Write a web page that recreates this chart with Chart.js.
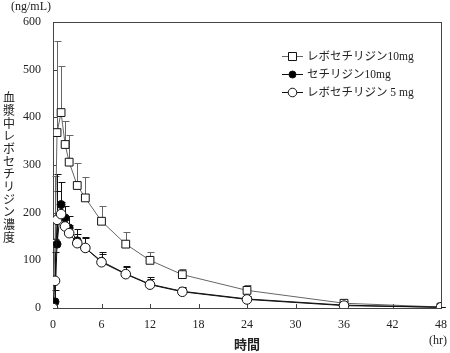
<!DOCTYPE html>
<html lang="ja">
<head>
<meta charset="UTF-8">
<title>血漿中レボセチリジン濃度</title>
<script src="https://cdn.jsdelivr.net/npm/chart.js"></script>
<style>
  html, body { margin: 0; padding: 0; background: #fff; }
  #wrap { width: 450px; height: 353px; }
</style>
</head>
<body>
<div id="wrap"><canvas id="myChart" width="450" height="353"></canvas></div>
<script>
// 採血時間 (hr)
const times = [0, 0.25, 0.5, 1, 1.5, 2, 3, 4, 6, 9, 12, 16, 24, 36, 48];

// レボセチリジン10mg (平均, SD)
const levo10 = [0, 136, 368, 410, 343, 306, 257, 231, 182, 134, 100, 70, 37, 10, 2];
const levo10Sd = [0, 140, 192, 98, 50, 56, 47, 43, 32, 26, 17, 11, 12, 5, 1];

// セチリジン10mg
const cet10 = [0, 13, 134, 217, 189, 168, 141, 126, 98, 72, 50, 35, 19, 6, 1.5];
const cet10Sd = [0, 25, 148, 47, 25, 25, 24, 24, 19, 17, 14, 9, 6, 3, 1];

// レボセチリジン 5 mg
const levo5 = [0, 57, 185, 197, 171, 157, 136, 126, 96, 71, 49, 34, 18, 5, 1.5];
const levo5Sd = [0, 60, 60, 25, 20, 18, 20, 20, 17, 14, 12, 8, 5, 2, 1];

const xTicks = [0, 6, 12, 18, 24, 30, 36, 42, 48];
const yTicks = [0, 100, 200, 300, 400, 500, 600];
const legendLabels = ['レボセチリジン10mg', 'セチリジン10mg', 'レボセチリジン 5 mg'];

const serif = '"Liberation Serif", "DejaVu Serif", "Noto Sans CJK JP", serif';

const series = [
    { mean: levo10, sd: levo10Sd, color: '#666', style: 'rect', radius: 5.5, fill: '#fff' },
    { mean: cet10, sd: cet10Sd, color: '#111', style: 'circle', radius: 4, fill: '#000' },
    { mean: levo5, sd: levo5Sd, color: '#111', style: 'circle', radius: 4.8, fill: '#fff' }
];

function toPoints(arr) {
    return times.map((t, i) => ({ x: t, y: arr[i] }));
}

//Dibuja barras de error, marco, ticks internos, textos y leyenda
const extras = {
    id: 'extras',
    beforeDatasetsDraw(chart) {
        const { ctx, chartArea: a, scales: { x, y } } = chart;
        ctx.save();
        // marco
        ctx.strokeStyle = '#444';
        ctx.lineWidth = 1;
        ctx.strokeRect(Math.round(a.left) + 0.5, Math.round(a.top) + 0.5,
            Math.round(a.right - a.left), Math.round(a.bottom - a.top));
        // ticks hacia dentro
        ctx.beginPath();
        yTicks.forEach(v => {
            const py = Math.round(y.getPixelForValue(v)) + 0.5;
            ctx.moveTo(a.left, py);
            ctx.lineTo(a.left + 4, py);
        });
        xTicks.forEach(v => {
            const px = Math.round(x.getPixelForValue(v)) + 0.5;
            ctx.moveTo(px, a.bottom);
            ctx.lineTo(px, a.bottom - 4);
        });
        ctx.stroke();
        // barras de error (solo hacia arriba)
        series.forEach(s => {
            ctx.strokeStyle = s.color;
            ctx.beginPath();
            times.forEach((t, i) => {
                if (!s.sd[i]) return;
                const px = Math.round(x.getPixelForValue(t)) + 0.5;
                const y0 = y.getPixelForValue(s.mean[i]);
                const y1 = Math.round(y.getPixelForValue(s.mean[i] + s.sd[i])) + 0.5;
                ctx.moveTo(px, y0);
                ctx.lineTo(px, y1);
                ctx.moveTo(px - 3, y1);
                ctx.lineTo(px + 4, y1);
            });
            ctx.stroke();
        });
        ctx.restore();
    },
    afterDraw(chart) {
        const { ctx, chartArea: a } = chart;
        ctx.save();
        ctx.fillStyle = '#222';
        // unidades
        ctx.font = '12px ' + serif;
        ctx.textAlign = 'center';
        ctx.textBaseline = 'middle';
        ctx.fillText('(ng/mL)', 31, 7);
        ctx.fillText('(hr)', 438, 341);
        // titulo eje x
        ctx.font = 'bold 13px ' + serif;
        ctx.fillText('時間', (a.left + a.right) / 2, 346);
        // titulo eje y vertical
        ctx.font = '12px ' + serif;
        const yTitle = '血漿中レボセチリジン濃度';
        Array.from(yTitle).forEach((ch, i) => {
            ctx.fillText(ch, 9, 99 + i * 12.7);
        });
        // leyenda
        const rows = [56, 74, 92];
        ctx.font = '11.5px ' + serif;
        ctx.textAlign = 'left';
        series.forEach((s, i) => {
            const ly = rows[i] + 0.5;
            ctx.strokeStyle = s.color;
            ctx.lineWidth = 1;
            ctx.beginPath();
            ctx.moveTo(282, ly);
            ctx.lineTo(303, ly);
            ctx.stroke();
            ctx.fillStyle = s.fill;
            ctx.strokeStyle = '#111';
            ctx.beginPath();
            if (s.style === 'rect') {
                ctx.rect(288.5, ly - 4, 8, 8);
            } else {
                ctx.arc(292.5, ly, s.radius - 0.5, 0, Math.PI * 2);
            }
            ctx.fill();
            ctx.stroke();
            ctx.fillStyle = '#222';
            ctx.fillText(legendLabels[i], 307, ly);
        });
        ctx.restore();
    }
};

const ctx = document.getElementById('myChart').getContext('2d');
const myChart = new Chart(ctx, {
    type: 'scatter',
    data: {
        datasets: series.map((s, i) => ({
            label: legendLabels[i],
            data: toPoints(s.mean),
            showLine: true,
            borderColor: s.color,
            borderWidth: 1,
            pointStyle: s.style,
            pointRadius: s.radius,
            pointBackgroundColor: s.fill,
            pointBorderColor: '#111',
            pointBorderWidth: 1,
            order: 2 - i
        }))
    },
    options: {
        responsive: false,
        animation: false,
        devicePixelRatio: 1,
        layout: { padding: { top: 22, right: 9, left: 0, bottom: 0 } },
        plugins: {
            legend: { display: false },
            tooltip: { enabled: false }
        },
        scales: {
            x: {
                type: 'linear',
                min: 0,
                max: 48,
                afterBuildTicks: s => { s.ticks = xTicks.map(v => ({ value: v })); },
                afterFit: s => { s.height = 45; s.paddingLeft = 0; s.paddingRight = 0; },
                grid: { display: false, drawTicks: false },
                border: { display: false },
                ticks: { padding: 10, color: '#222', font: { family: serif, size: 12 }, maxRotation: 0 }
            },
            y: {
                min: 0,
                max: 600,
                afterBuildTicks: s => { s.ticks = yTicks.map(v => ({ value: v })); },
                afterFit: s => { s.width = 53; s.paddingTop = 0; s.paddingBottom = 0; },
                grid: { display: false, drawTicks: false },
                border: { display: false },
                ticks: { padding: 12, color: '#222', font: { family: serif, size: 12 } }
            }
        }
    },
    plugins: [extras]
});
</script>
</body>
</html>
